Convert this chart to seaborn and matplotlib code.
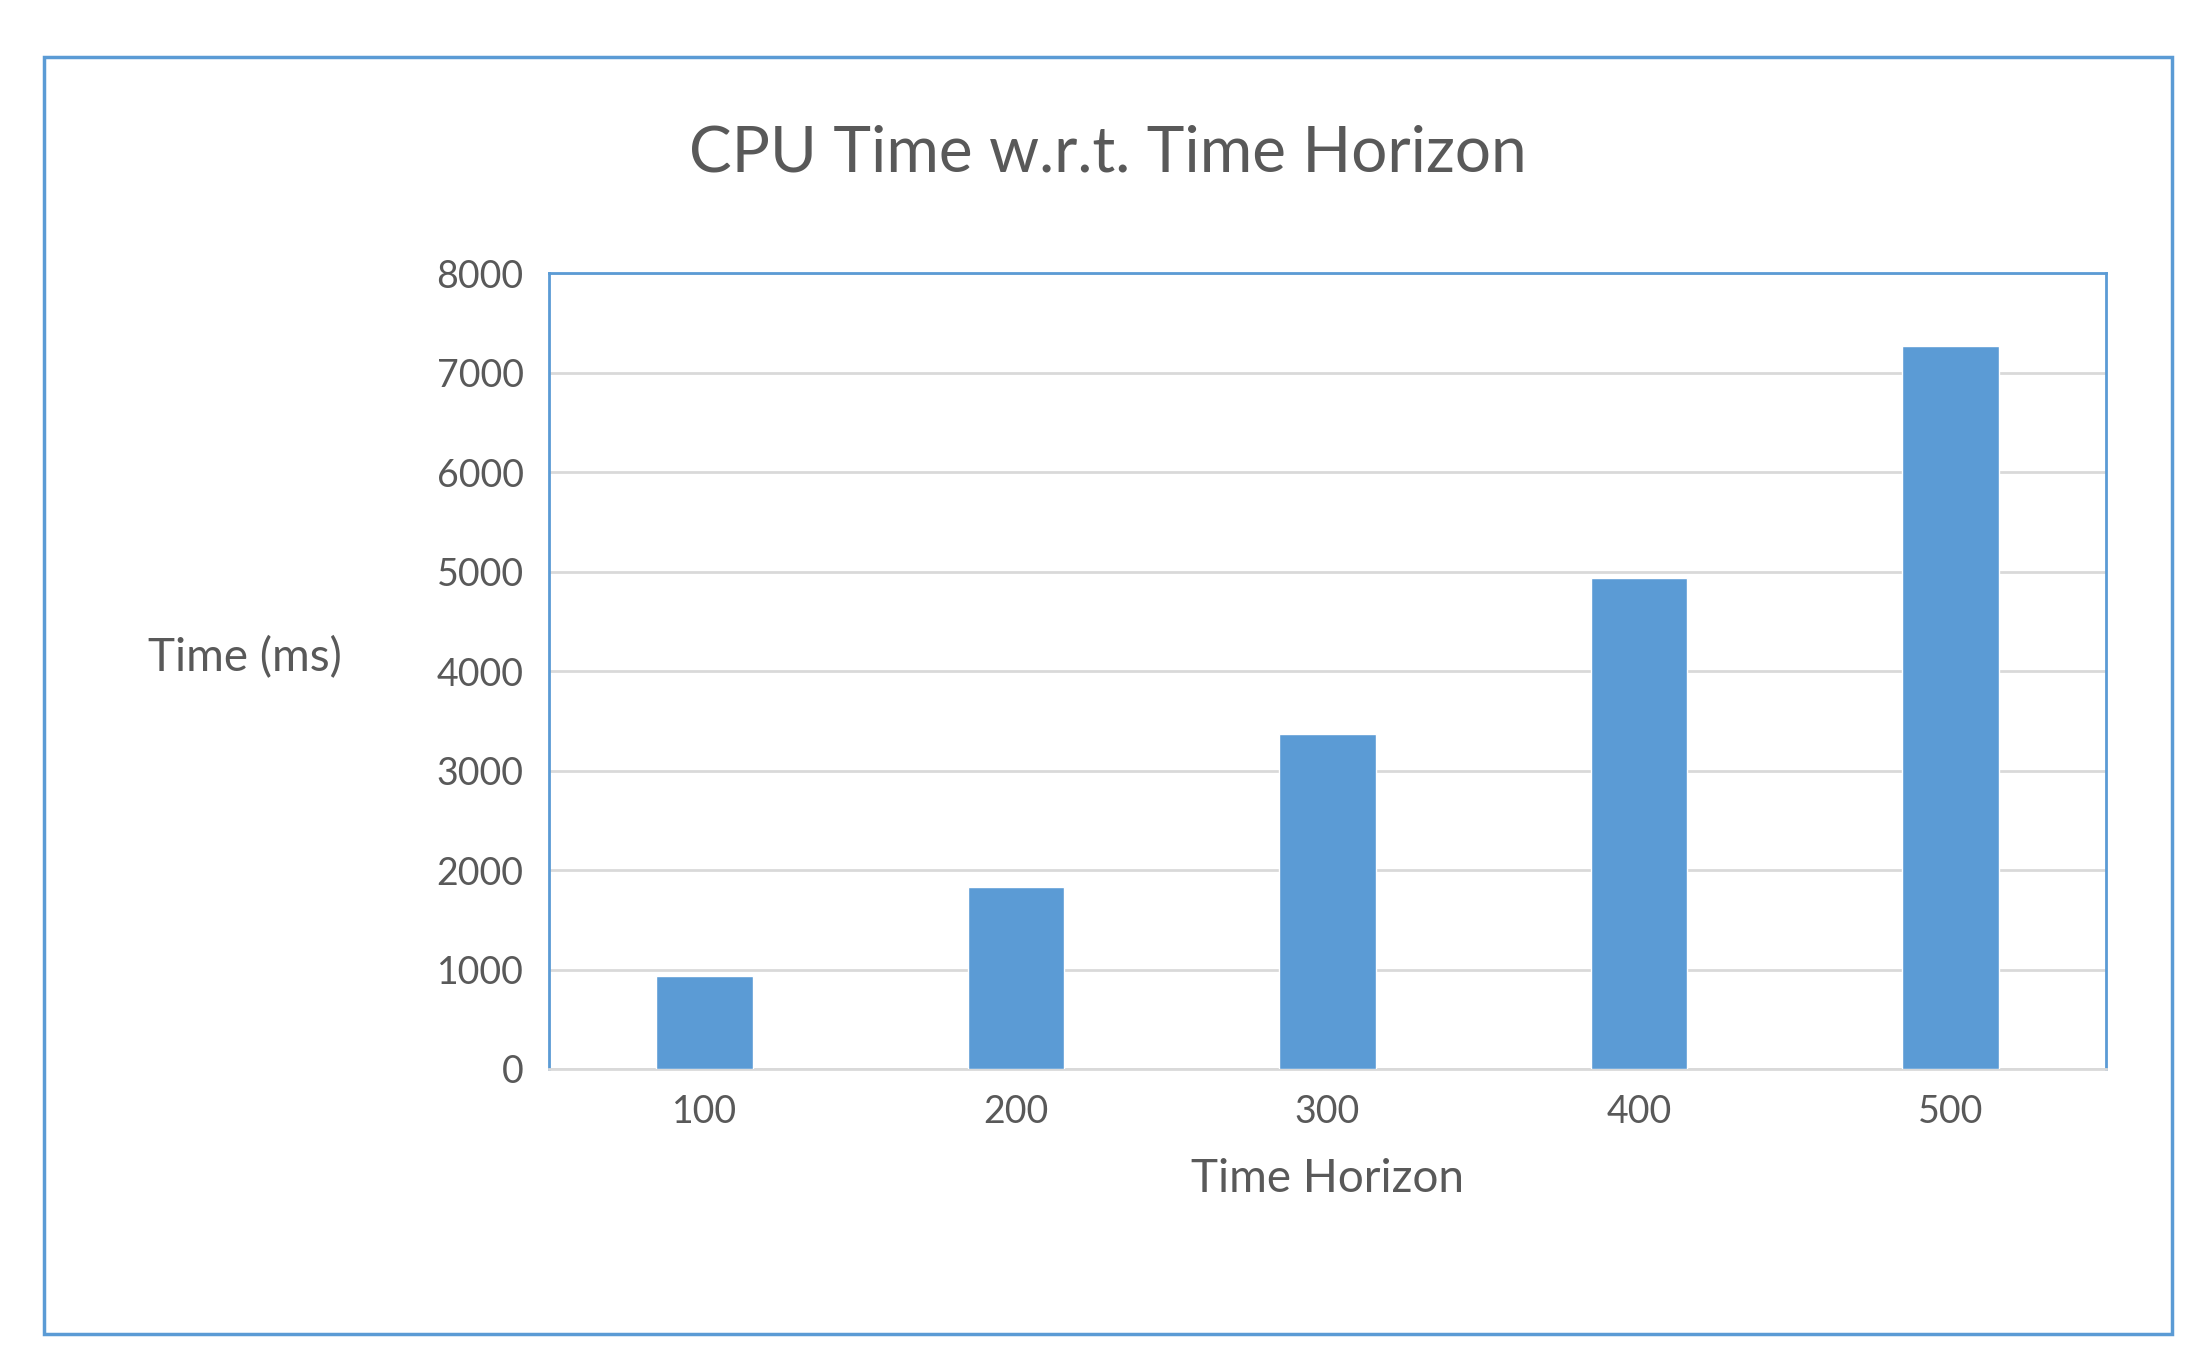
import matplotlib
matplotlib.use("Agg")
import matplotlib.pyplot as plt
import seaborn as sns
import pandas as pd
from matplotlib.patches import Rectangle

horizons = ["100", "200", "300", "400", "500"]
cpu_ms = [940, 1830, 3370, 4940, 7270]

sns.set_style("white")
plt.rcParams['font.family'] = ['Lato', 'DejaVu Sans']
grey = "#595959"
blue = "#5B9BD5"

df = pd.DataFrame({"h": horizons, "t": cpu_ms})
fig = plt.figure(figsize=(22.03, 13.67), dpi=100)
ax = fig.add_axes([0.249, 0.218, 0.707, 0.582])
sns.barplot(data=df, x="h", y="t", color=blue, width=0.31, saturation=1, ax=ax, zorder=3)

ax.set_ylim(0, 8000)
ax.set_yticks(range(0, 8001, 1000))
ax.yaxis.grid(True, color="#D9D9D9", linewidth=2, zorder=0)
ax.set_axisbelow(True)
for s in ax.spines.values():
    s.set_color(blue)
    s.set_linewidth(2)
ax.spines["bottom"].set_color("#D9D9D9")
ax.tick_params(axis="both", length=0, labelsize=27, labelcolor=grey, pad=18)
ax.set_xlabel("Time Horizon", fontsize=33, color=grey, labelpad=20)
ax.set_ylabel("Time (ms)", fontsize=33, color=grey, rotation=0, labelpad=0)
ax.yaxis.set_label_coords(-0.195, 0.49)

fig.text(0.503, 0.888, "CPU Time w.r.t. Time Horizon", fontsize=46, color=grey, ha="center", va="center")
fig.patches.append(Rectangle((0.02, 0.024), 0.966, 0.934, transform=fig.transFigure,
                             fill=False, edgecolor=blue, linewidth=2.5))

fig.savefig("out.png", dpi=100)
